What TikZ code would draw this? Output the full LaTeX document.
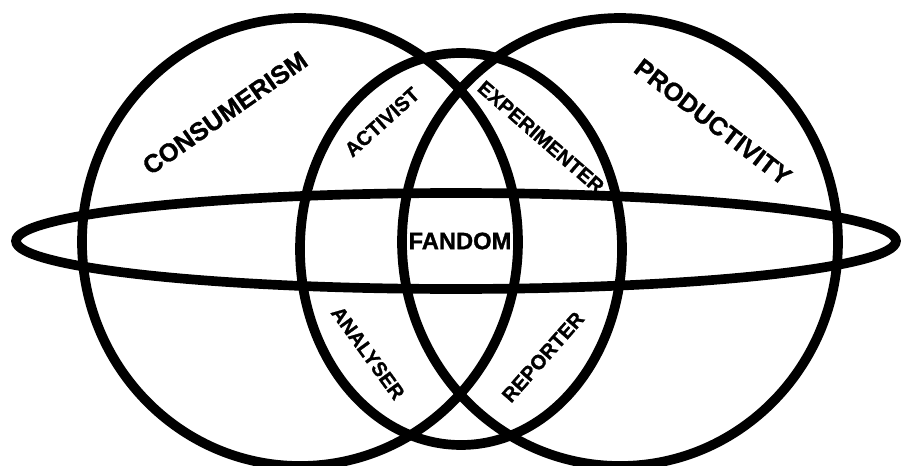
\documentclass[tikz,border=0pt]{standalone}
\usepackage{fontspec}
\setmainfont{Liberation Sans}
\newfontfamily\heavyface{Liberation Sans Bold}[FakeBold=1.2]
\begin{document}
\begin{tikzpicture}[x=0.02cm,y=-0.02cm,
    ring/.style={draw=black,line width=5.5pt},
    bigword/.style={font=\heavyface\fontsize{14.5}{16}\selectfont,inner sep=0pt},
    smallword/.style={font=\heavyface\fontsize{11.5}{13}\selectfont,inner sep=0pt}]
  \useasboundingbox (0,0) rectangle (903,466);
  % the two big circles
  \draw[ring] (300,242) ellipse [x radius=218,y radius=224];
  \draw[ring] (620,242) ellipse [x radius=218,y radius=224];
  % the tall middle ring and the flat band
  \draw[ring] (461,249) ellipse [x radius=161,y radius=196];
  \draw[ring] (456,241) ellipse [x radius=440,y radius=48];
  % outer labels
  \node[bigword,rotate=35] (cons) at (225,113) {CONSUMERISM};
  \node[bigword,rotate=-37.5] (prod) at (713,122) {PRODUCTIVITY};
  % labels in the lenses
  \node[smallword,rotate=42] (act) at (382,122) {ACTIVIST};
  \node[smallword,rotate=-41] (exper) at (541,137) {EXPERIMENTER};
  \node[smallword,rotate=-54] (anal) at (368,353) {ANALYSER};
  \node[smallword,rotate=48.6] (rep) at (543,357) {REPORTER};
  \node[font=\heavyface\fontsize{13.5}{15}\selectfont,inner sep=0pt] (fand) at (460,241) {FANDOM};
\end{tikzpicture}
\end{document}
